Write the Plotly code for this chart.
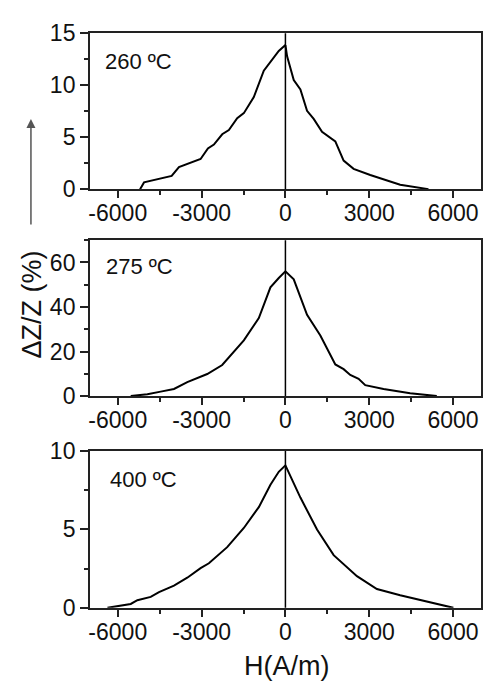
import plotly.graph_objects as go

# ---- data ----
h_260 = [-5202, -5060, -4071, -3810, -3036, -2774, -2560, -2262, -2024, -1726, -1488, -1131,
         -774, -238, 0, 60, 298, 536, 774, 1012, 1310, 1786, 2083, 2440, 3036, 3631, 4107, 5119]
z_260 = [0, 0.65, 1.27, 2.13, 2.9, 3.92, 4.29, 5.28, 5.68, 6.82, 7.31, 8.86,
         11.39, 13.3, 13.86, 12.78, 10.5, 9.6, 7.53, 6.76, 5.52, 4.6, 2.75, 1.95, 1.36, 0.83, 0.43, 0]

h_275 = [-5536, -4940, -4464, -3988, -3512, -2798, -2262, -1845, -1488, -952, -536, -238,
         0, 298, 774, 1250, 1786, 2083, 2321, 2619, 2857, 3512, 4107, 4464, 5417]
z_275 = [0, 0.86, 2.0, 3.2, 6.3, 9.9, 13.96, 20, 25, 35, 48.8, 53,
         56, 52.4, 36.5, 27.2, 14.2, 12.1, 9.5, 7.8, 4.9, 3.2, 2.0, 1.3, 0]

h_400 = [-6369, -5536, -5298, -4821, -4524, -3988, -3512, -3036, -2738, -2083, -1488, -952,
         -536, -238, 0, 179, 536, 1131, 1726, 2560, 3274, 4107, 4702, 5298, 6012]
z_400 = [0, 0.25, 0.49, 0.7, 1.0, 1.41, 1.92, 2.53, 2.84, 3.87, 5.09, 6.42,
         7.85, 8.67, 9.08, 8.36, 7.03, 4.99, 3.36, 2.02, 1.2, 0.8, 0.55, 0.33, 0]

labels = ["260 ºC", "275 ºC", "400 ºC"]
y_ranges = [[0, 15], [0, 70], [0, 10]]
y_dticks = [5, 20, 5]
y_minor = [2.5, 10, 2.5]
x_ticks = [-6000, -3000, 0, 3000, 6000]
x_ticktext = ["-6000", "-3000", "0", "3000", "6000"]

W, H = 489, 694
FONT = "Liberation Sans, Arial, sans-serif"

# pixel boxes of the three plot areas (left, right, top, bottom)
px_left, px_right = 89, 481
px_boxes = [(21, 183), (236, 398), (455, 618)]

fig = go.Figure()
series = [(h_260, z_260), (h_275, z_275), (h_400, z_400)]
for i, (hx, zy) in enumerate(series):
    xa = "x" if i == 0 else f"x{i+1}"
    ya = "y" if i == 0 else f"y{i+1}"
    fig.add_trace(go.Scatter(x=hx, y=zy, mode="lines", xaxis=xa, yaxis=ya,
                             line=dict(color="black", width=2), showlegend=False,
                             hoverinfo="skip"))

axis_common = dict(showline=True, mirror=True, linecolor="#222", linewidth=1.5,
                   ticks="outside", tickcolor="#222", tickwidth=1.5,
                   showgrid=False, zeroline=False,
                   tickfont=dict(family=FONT, size=23, color="#111"))

layout = dict(width=W, height=H, margin=dict(l=0, r=0, t=0, b=0),
              paper_bgcolor="white", plot_bgcolor="white", showlegend=False)

for i, (top, bot) in enumerate(px_boxes):
    xk = "xaxis" if i == 0 else f"xaxis{i+1}"
    yk = "yaxis" if i == 0 else f"yaxis{i+1}"
    yref = "y" if i == 0 else f"y{i+1}"
    xref = "x" if i == 0 else f"x{i+1}"
    layout[xk] = dict(axis_common, domain=[px_left / W, px_right / W], range=[-7000, 7000],
                      anchor=yref, tickvals=x_ticks, ticktext=x_ticktext, ticklen=7,
                      ticklabelstandoff=-4,
                      minor=dict(dtick=1500, tick0=0, ticklen=4, ticks="outside",
                                 tickcolor="#222", tickwidth=1.5))
    layout[yk] = dict(axis_common, domain=[1 - bot / H, 1 - top / H], range=y_ranges[i],
                      anchor=xref, dtick=y_dticks[i], tick0=0, ticklen=8,
                      minor=dict(dtick=y_minor[i], tick0=0, ticklen=4, ticks="outside",
                                 tickcolor="#222", tickwidth=1.5))

fig.update_layout(**layout)

# vertical reference line at H = 0 in each panel
for i in range(3):
    xref = "x" if i == 0 else f"x{i+1}"
    yref = "y domain" if i == 0 else f"y{i+1} domain"
    fig.add_shape(type="line", xref=xref, yref=yref, x0=0, x1=0, y0=0, y1=1,
                  line=dict(color="black", width=1.5))

# panel labels
label_pos = [(102, 50), (103, 263), (107, 485)]
for lab, (lx, ly) in zip(labels, label_pos):
    fig.add_annotation(text=lab, xref="paper", yref="paper", x=lx / W, y=1 - ly / H,
                       xanchor="left", yanchor="middle", showarrow=False,
                       font=dict(family=FONT, size=22, color="#111"))

# axis titles
fig.add_annotation(text="H(A/m)", xref="paper", yref="paper", x=286 / W, y=1 - 678 / H,
                   xanchor="center", yanchor="middle", showarrow=False,
                   font=dict(family=FONT, size=27, color="#111"))
fig.add_annotation(text="ΔZ/Z (%)", xref="paper", yref="paper", x=31 / W, y=1 - 303 / H,
                   xanchor="center", yanchor="middle", showarrow=False, textangle=-90,
                   font=dict(family=FONT, size=27, color="#111"))

# upward arrow
fig.add_annotation(text="", xref="paper", yref="paper", x=30 / W, y=1 - 110 / H,
                   ax=0, ay=107, showarrow=True, arrowhead=2, arrowsize=1.2,
                   arrowwidth=1.5, arrowcolor="#555")

fig.write_html("out.html")
